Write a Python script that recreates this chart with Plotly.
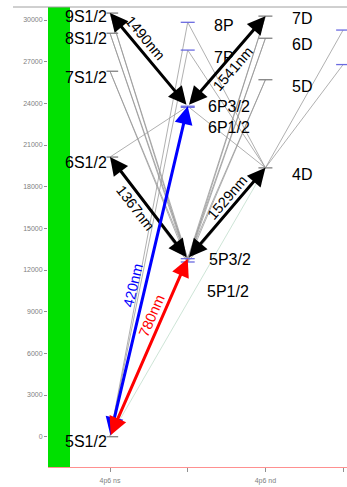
import math
import plotly.graph_objects as go

# ---------------- data ----------------
columns = [0, 1, 2, 3]
tick_labels = ["4p6 ns", "", "4p6 nd", ""]

level_names = ["5S1/2", "6S1/2", "7S1/2", "8S1/2", "9S1/2",
               "5P1/2", "5P3/2", "6P1/2", "6P3/2", "7P", "8P",
               "4D", "5D", "6D", "7D", "4F", "5F"]
level_col = [0, 0, 0, 0, 0,
             1, 1, 1, 1, 1, 1,
             2, 2, 2, 2, 3, 3]
level_energy = [0, 20133, 26311, 29047, 30499,
                12579, 12817, 23715, 23793, 27835, 29835,
                19355, 25701, 28687, 30280, 26792, 29277]

gray_pairs = [
    ("9S1/2", "5P3/2"), ("9S1/2", "5P1/2"), ("8S1/2", "5P3/2"), ("8S1/2", "5P1/2"),
    ("7S1/2", "5P3/2"), ("7S1/2", "5P1/2"), ("6S1/2", "6P3/2"), ("6S1/2", "5P1/2"),
    ("5S1/2", "7P"), ("5S1/2", "8P"), ("5S1/2", "6P1/2"),
    ("5P3/2", "5D"), ("5P3/2", "6D"), ("5P3/2", "7D"),
    ("5P1/2", "5D"), ("5P1/2", "6D"), ("5P1/2", "7D"), ("5P1/2", "4D"),
    ("6P3/2", "4D"), ("7P", "4D"), ("8P", "4D"),
    ("4D", "4F"), ("4D", "5F"),
]
faint_pairs = [("5S1/2", "4D")]

# arrows: (lower, upper, label, colour)
arrows = [
    ("6P3/2", "9S1/2", "1490nm", "black"),
    ("6P3/2", "7D", "1541nm", "black"),
    ("5P3/2", "6S1/2", "1367nm", "black"),
    ("5P3/2", "4D", "1529nm", "black"),
    ("5S1/2", "6P3/2", "420nm", "blue"),
    ("5S1/2", "5P3/2", "780nm", "red"),
]
# label offsets in px: (along arrow from midpoint toward upper level, to the left of travel)
arrow_label_offset = {"1490nm": (19, -11), "1541nm": (-2, -10), "1367nm": (8, 11),
                      "1529nm": (12, 10), "420nm": (-17, 12), "780nm": (30, 10)}

# level label placement (pixel shifts), anchor
label_style = {
    "9S1/2": ("right", -1, 3), "8S1/2": ("right", -1, 5), "7S1/2": ("right", -1, 6),
    "6S1/2": ("right", -1, 5), "5S1/2": ("right", -1, 5),
    "8P": ("left", 24, 3), "7P": ("left", 24, 7),
    "6P3/2": ("left", 18, 0), "6P1/2": ("left", 18, 20),
    "5P3/2": ("left", 19, 1), "5P1/2": ("left", 17, 30),
    "7D": ("left", 25, 2), "6D": ("left", 25, 6), "5D": ("left", 25, 7), "4D": ("left", 25, 7),
}

# ---------------- geometry ----------------
W, H = 347, 487
ml, mr, mt, mb = 48, 0, 7, 20
xr = [-0.798, 3.05]
yr = [-2181, 30937]
pw, ph = W - ml - mr, H - mt - mb
sx = pw / (xr[1] - xr[0])
sy = ph / (yr[1] - yr[0])

pos = {n: (c, e) for n, c, e in zip(level_names, level_col, level_energy)}


def to_px(x, y):
    return ml + (x - xr[0]) * sx, mt + (yr[1] - y) * sy


fig = go.Figure()

# green bar
fig.add_shape(type="rect", xref="x", yref="paper", x0=xr[0], x1=xr[0] + 22 / sx,
              y0=0, y1=1, fillcolor="#00e000", line=dict(width=0), layer="below")
# top border
fig.add_shape(type="line", xref="paper", yref="paper", x0=-35 / pw, x1=1, y0=1, y1=1,
              line=dict(color="#a0a0a0", width=1))

# gray transition lines
gx, gy = [], []
for a, b in gray_pairs:
    gx += [pos[a][0], pos[b][0], None]
    gy += [pos[a][1], pos[b][1], None]
fig.add_trace(go.Scatter(x=gx, y=gy, mode="lines", line=dict(color="rgba(150,150,150,0.75)", width=1),
                         hoverinfo="skip", showlegend=False))
fx, fy = [], []
for a, b in faint_pairs:
    fx += [pos[a][0], pos[b][0], None]
    fy += [pos[a][1], pos[b][1], None]
fig.add_trace(go.Scatter(x=fx, y=fy, mode="lines", line=dict(color="rgba(200,225,210,0.9)", width=1),
                         hoverinfo="skip", showlegend=False))

# level dashes
for colour, cols in (("#808080", (0, 2)), ("#6a6ae0", (1, 3))):
    dx, dy = [], []
    for n, c, e in zip(level_names, level_col, level_energy):
        if c in cols:
            hw = 0.09 if c != 0 else 0.075
            off = 0.03 if c == 0 else 0
            dx += [c - hw + off, c + hw + off, None]
            dy += [e, e, None]
    fig.add_trace(go.Scatter(x=dx, y=dy, mode="lines", line=dict(color=colour, width=1.3),
                             hoverinfo="skip", showlegend=False))

# arrows
for lo, up, lab, colour in arrows:
    x0, y0 = pos[lo]
    x1, y1 = pos[up]
    fig.add_annotation(x=x1, y=y1, ax=x0, ay=y0, xref="x", yref="y", axref="x", ayref="y",
                       text="", showarrow=True, arrowhead=2, arrowsize=1.2, arrowwidth=3,
                       arrowcolor=colour, arrowside="end+start", startarrowhead=2,
                       startarrowsize=1.2)
    p0 = to_px(x0, y0)
    p1 = to_px(x1, y1)
    ddx, ddy = p1[0] - p0[0], p1[1] - p0[1]
    L = math.hypot(ddx, ddy)
    ux, uy = ddx / L, ddy / L
    nx, ny = uy, -ux
    ang = math.degrees(math.atan2(ddy, ddx))
    if ang > 90:
        ang -= 180
    if ang < -90:
        ang += 180
    along, perp = arrow_label_offset[lab]
    shx = along * ux + perp * nx
    shy = along * uy + perp * ny
    fig.add_annotation(x=(x0 + x1) / 2, y=(y0 + y1) / 2, xref="x", yref="y", text=lab,
                       showarrow=False, textangle=ang, xshift=shx, yshift=-shy,
                       font=dict(family="Liberation Sans, Arial", size=14.5, color=colour))

# level labels
for n, c, e in zip(level_names, level_col, level_energy):
    if n not in label_style:
        continue
    anc, shx, shy = label_style[n]
    fig.add_annotation(x=c, y=e, xref="x", yref="y", text=n, showarrow=False,
                       xanchor=anc, yanchor="middle", xshift=shx, yshift=-shy,
                       font=dict(family="Liberation Sans, Arial", size=16, color="black"))

fig.update_layout(
    width=W, height=H, margin=dict(l=ml, r=mr, t=mt, b=mb),
    paper_bgcolor="white", plot_bgcolor="white", showlegend=False,
    xaxis=dict(range=xr, tickvals=columns, ticktext=tick_labels, showgrid=False, zeroline=False,
               showline=True, linecolor="#ff9090", linewidth=1, ticks="outside", ticklen=4,
               ticklabelstandoff=3,
               tickcolor="#909090", tickfont=dict(family="Liberation Sans, Arial", size=7, color="#808080"),
               fixedrange=True),
    yaxis=dict(range=yr, tickvals=list(range(0, 30001, 3000)), tickformat="d", showgrid=False,
               zeroline=False, showline=False, ticks="outside", ticklen=3, tickcolor="#909090",
               tickfont=dict(family="Liberation Sans, Arial", size=7, color="#808080"),
               fixedrange=True),
)

fig.write_html("out.html", config={"displayModeBar": False},
               post_script="document.body.style.margin='0px';")
